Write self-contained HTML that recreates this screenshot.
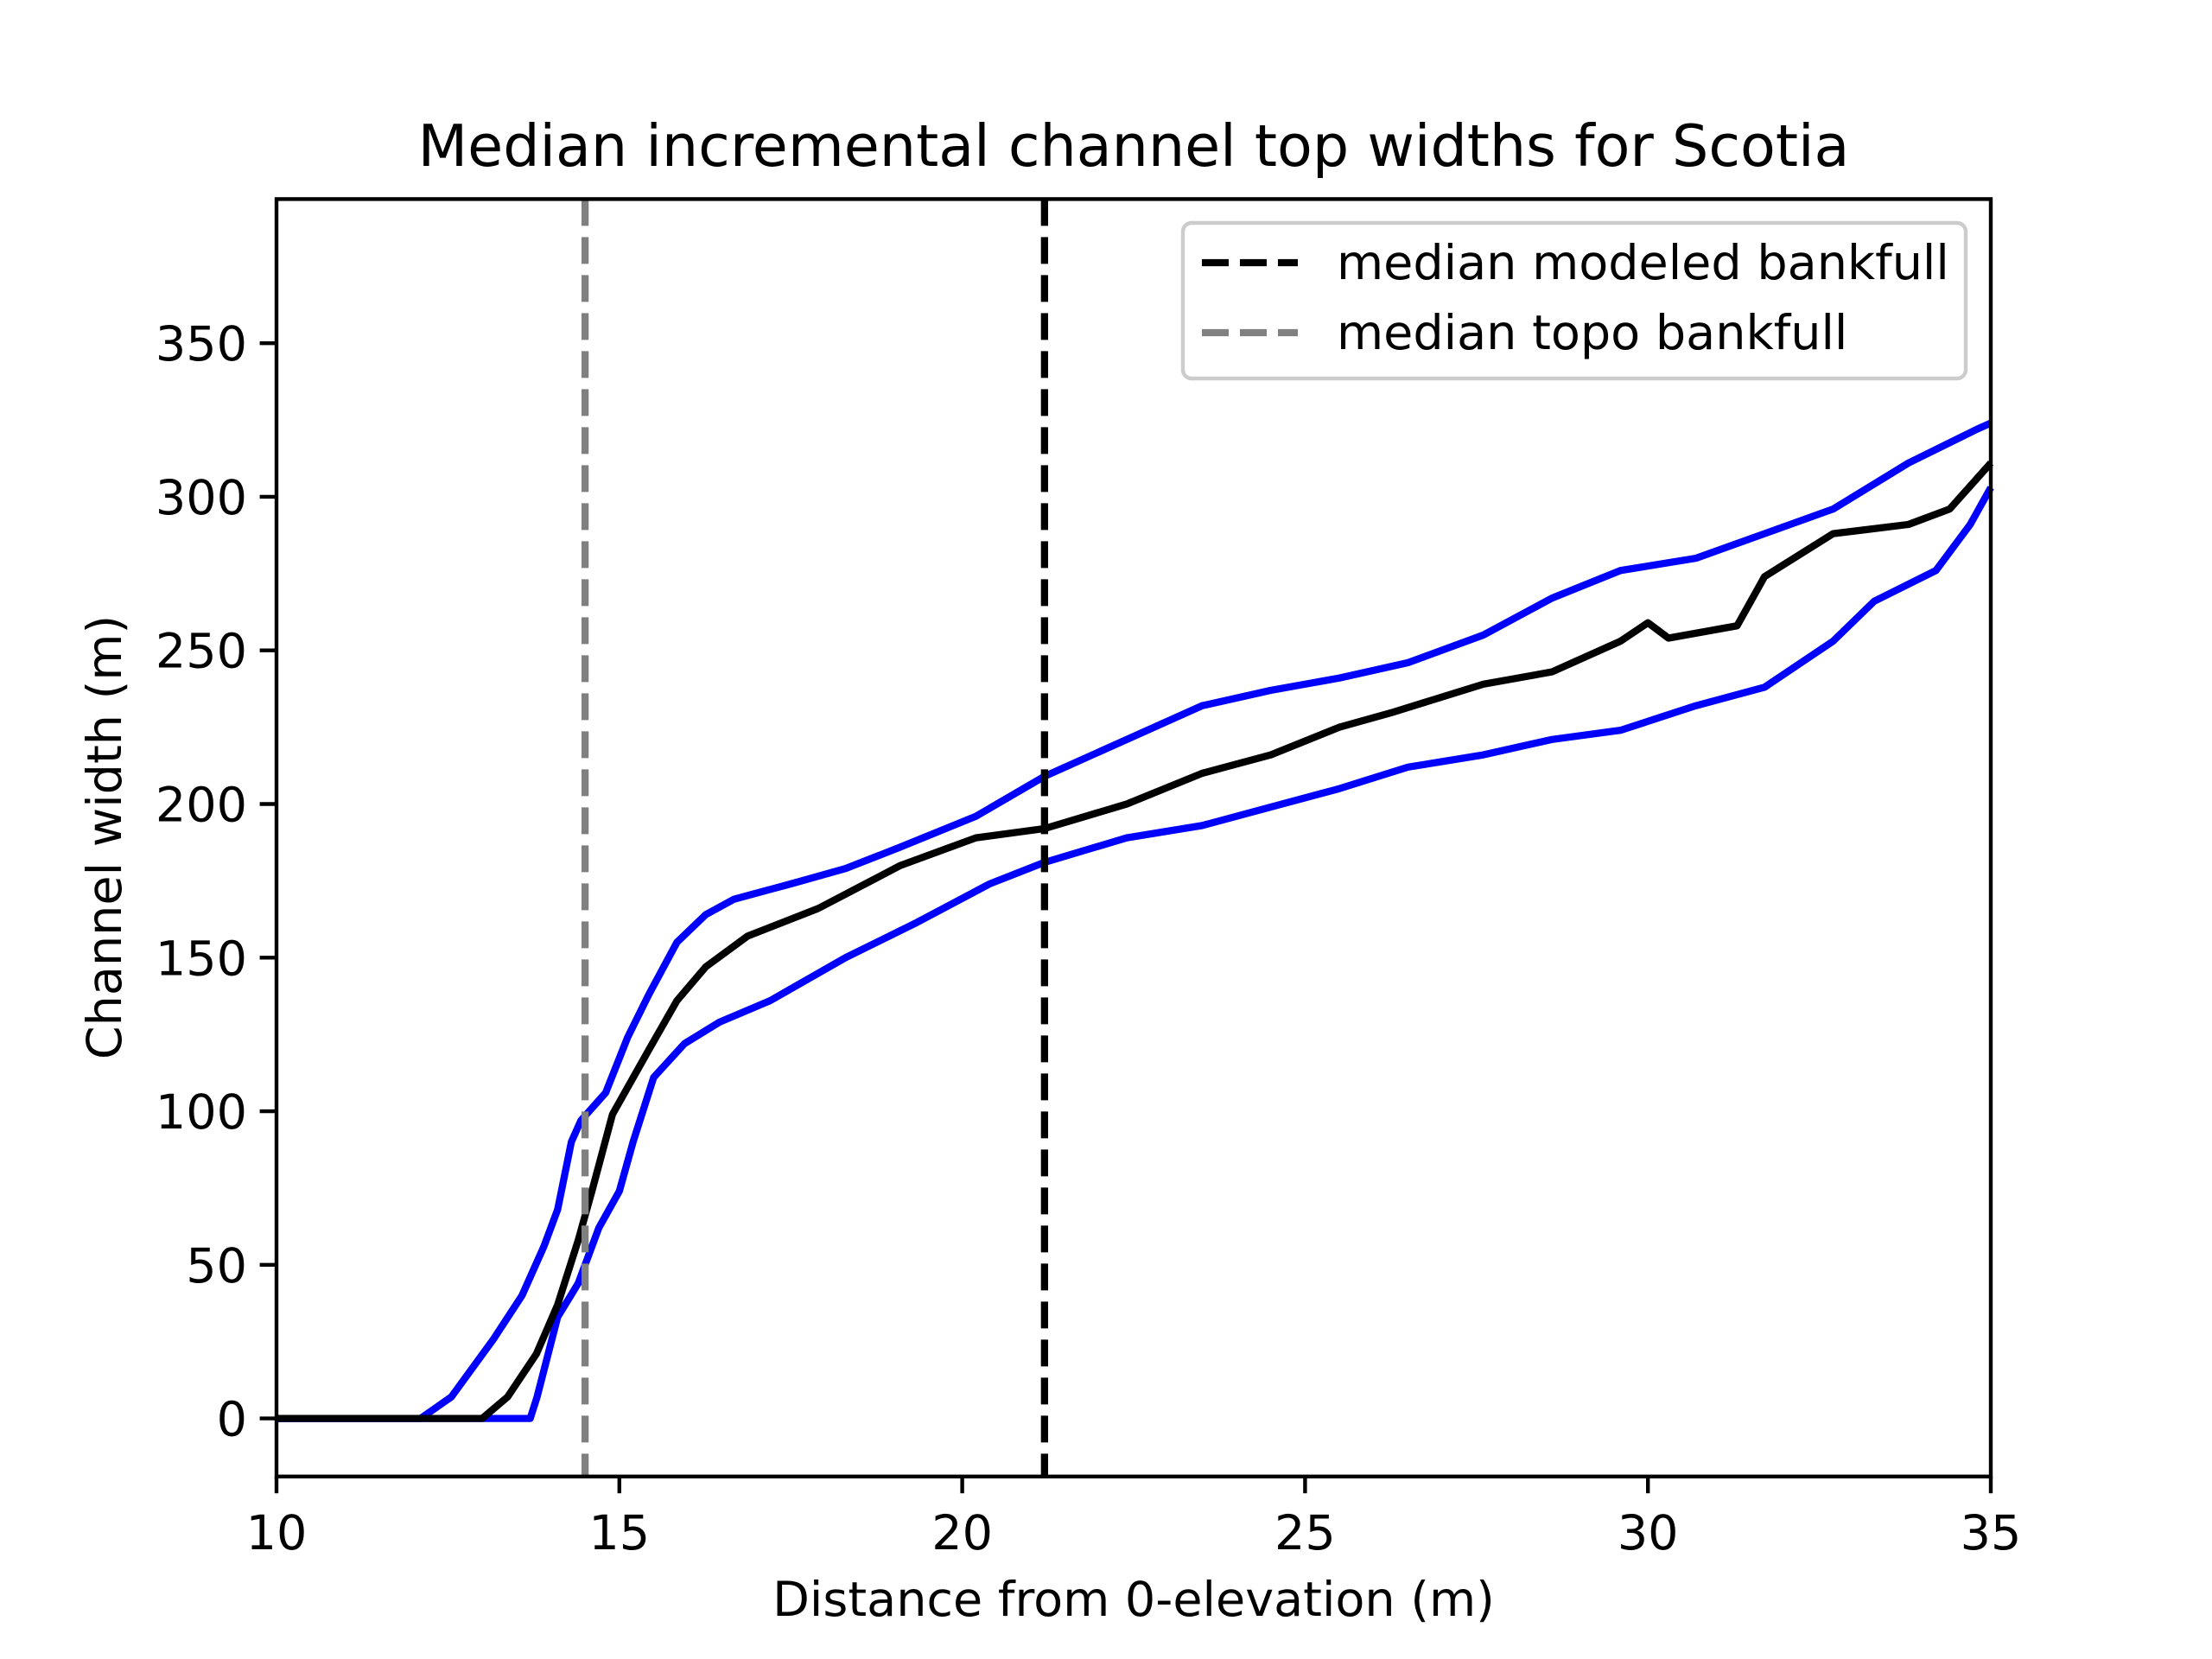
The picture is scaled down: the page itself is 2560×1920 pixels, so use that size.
<!DOCTYPE html>
<html><head><meta charset="utf-8"><style>
html,body{margin:0;padding:0;background:#fff;}
svg{display:block;font-family:"DejaVu Sans","Liberation Sans",sans-serif;}
</style></head><body>
<svg id="chart" width="2560" height="1920" viewBox="0 0 2560 1920" xmlns="http://www.w3.org/2000/svg">
<rect width="2560" height="1920" fill="#fff"/>
<text x="1312" y="192" font-size="66.7" text-anchor="middle">Median incremental channel top widths for Scotia</text>
<g id="plot"></g>
<rect x="320" y="230.4" width="1984" height="1478.4" fill="none" stroke="#000" stroke-width="4.4"/>
<g id="ticks"></g>
<text x="1312" y="1870" font-size="55.6" text-anchor="middle">Distance from 0-elevation (m)</text>
<text transform="translate(140,969) rotate(-90)" font-size="55.6" text-anchor="middle">Channel width (m)</text>
<g>
<rect x="1369" y="258" width="906" height="180" rx="10" fill="#fff" fill-opacity="0.8" stroke="#ccc" stroke-width="4.4"/>
<line x1="1391" x2="1502" y1="304" y2="304" stroke="#000" stroke-width="8.3" stroke-dasharray="31 13"/>
<text x="1547" y="323" font-size="55.6">median modeled bankfull</text>
<line x1="1391" x2="1502" y1="385" y2="385" stroke="#808080" stroke-width="8.3" stroke-dasharray="31 13"/>
<text x="1547" y="404" font-size="55.6">median topo bankfull</text>
</g>
</svg>
<script>
const xTicks=[10,15,20,25,30,35];
const yTicks=[0,50,100,150,200,250,300,350];
const upperX=[10,12.1,12.55,13.17,13.58,13.9,14.1,14.3,14.44,14.8,15.12,15.43,15.84,16.26,16.67,17.5,18.3,19.1,20.2,21.2,22.4,23.5,24.5,25.5,26.5,27.6,28.6,29.6,30.7,31.7,32.7,33.8,34.8,35];
const upperY=[0,0,7,26,40,56,68,90,97,106,124,138,155,164,169,174,179,186,196,209,221,232,237,241,246,255,267,276,280,288,296,311,322,324];
const medianX=[10,13.0,13.37,13.79,14.1,14.4,14.6,14.9,15.43,15.84,16.26,16.87,17.9,19.1,20.2,21.2,22.4,23.5,24.5,25.5,26.3,27.6,28.6,29.6,30.0,30.3,31.3,31.7,32.7,33.8,34.4,35];
const medianY=[0,0,7,21,37,58,74,99,120,136,147,157,166,180,189,192,200,210,216,225,230,239,243,253,259,254,258,274,288,291,296,311];
const lowerX=[10,13.7,13.8,14.1,14.4,14.7,15.0,15.2,15.5,15.95,16.46,17.2,18.3,19.3,20.4,21.2,22.4,23.5,24.5,25.5,26.5,27.6,28.6,29.6,30.7,31.7,32.7,33.3,34.2,34.7,35];
const lowerY=[0,0,7,33,44,62,74,90,111,122,129,136,150,161,174,181,189,193,199,205,212,216,221,224,232,238,253,266,276,291,303];
const topoBankfull=14.5;
const modeledBankfull=21.2;
const X0=320,X1=2304,Y0=1708.8,Y1=230.4,xmin=10,xmax=35,ymin=-18.9,ymax=396.9;
const sx=v=>X0+(v-xmin)/(xmax-xmin)*(X1-X0);
const sy=v=>Y0-(v-ymin)/(ymax-ymin)*(Y0-Y1);
const NS='http://www.w3.org/2000/svg';
const plot=document.getElementById('plot');
const ticks=document.getElementById('ticks');
function mk(tag,attrs,parent){const e=document.createElementNS(NS,tag);for(const k in attrs)e.setAttribute(k,attrs[k]);parent.appendChild(e);return e;}
function line(xs,ys,color,name){
  const p=mk('polyline',{points:xs.map((x,i)=>sx(x)+','+sy(ys[i])).join(' '),fill:'none',stroke:color,'stroke-width':8.3,'stroke-linejoin':'round'},plot);
  
  
}
line(upperX,upperY,'#0000ff','upper-width-line');
line(lowerX,lowerY,'#0000ff','lower-width-line');
line(medianX,medianY,'#000000','median-width-line');
const t=mk('line',{x1:sx(topoBankfull),x2:sx(topoBankfull),y1:Y1,y2:Y0,stroke:'#808080','stroke-width':8.3,'stroke-dasharray':'31 13'},plot);


const m=mk('line',{x1:sx(modeledBankfull),x2:sx(modeledBankfull),y1:Y1,y2:Y0,stroke:'#000','stroke-width':8.3,'stroke-dasharray':'31 13'},plot);


xTicks.forEach(v=>{
  const l=mk('line',{x1:sx(v),x2:sx(v),y1:Y0,y2:Y0+19.4,stroke:'#000','stroke-width':4.4},ticks);
  
  
  const tx=mk('text',{x:sx(v),y:Y0+84,'font-size':55.6,'text-anchor':'middle'},ticks);
  tx.textContent=v;
  
  
});
yTicks.forEach(v=>{
  const l=mk('line',{x1:X0-19.4,x2:X0,y1:sy(v),y2:sy(v),stroke:'#000','stroke-width':4.4},ticks);
  
  
  const tx=mk('text',{x:X0-34,y:sy(v)+20,'font-size':55.6,'text-anchor':'end'},ticks);
  tx.textContent=v;
  
  
});
</script>
</body></html>
